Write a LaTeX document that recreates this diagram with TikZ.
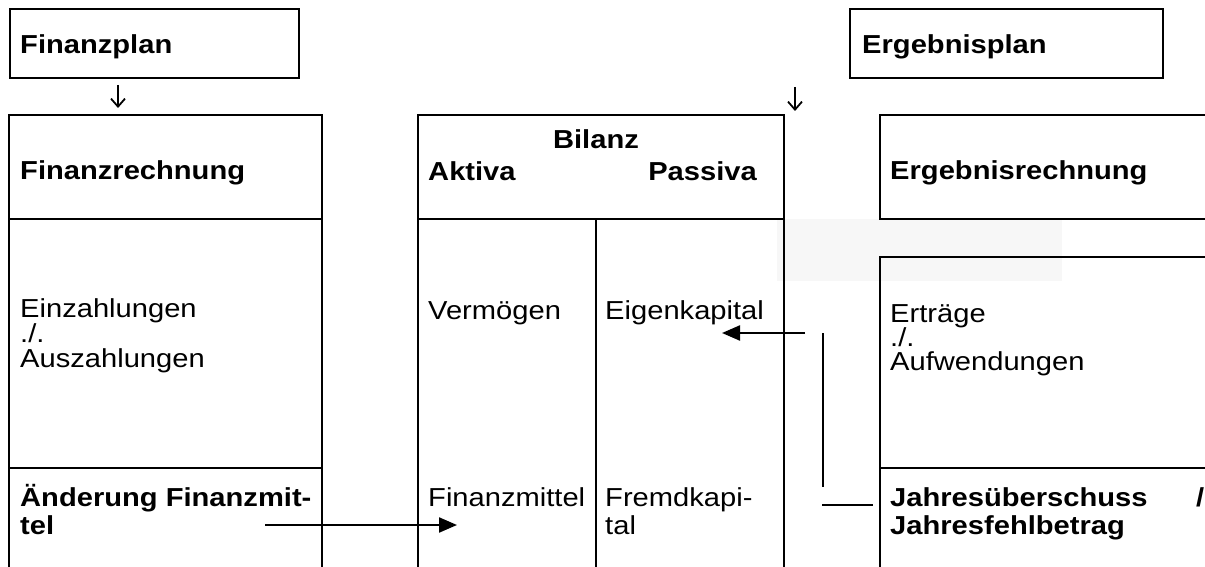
\documentclass[tikz,border=0pt]{standalone}
\usepackage{fontspec}
\setmainfont{Liberation Sans}
\usetikzlibrary{arrows.meta}
\begin{document}
\begin{tikzpicture}[x=1pt,y=-1pt,
  frame/.style={line width=2.2pt,black},
  thin/.style={line width=1.7pt,black},
  txt/.style={anchor=base west,inner sep=0pt,font=\fontsize{26}{29}\selectfont,xscale=1.12,transform shape},
  btxt/.style={txt,font=\fontsize{26}{29}\selectfont\bfseries},
  bigarrow/.style={line width=2.2pt,-{Triangle[length=18pt,width=15pt]}},
  smallarrow/.style={line width=1.8pt,-{Straight Barb[length=8pt,width=14pt]}}]
\useasboundingbox (0,0) rectangle (1205,567);
% faint gray patch
\fill[black!3] (777,219) rectangle (1062,281);
% Finanzplan
\draw[frame] (10,9) rectangle (299,78);
\node[btxt] (fp) at (20,54) {Finanzplan};
% Finanzrechnung
\draw[frame] (9,567) -- (9,115) -- (322,115) -- (322,567);
\draw[frame] (9,219) -- (322,219);
\draw[frame] (9,468) -- (322,468);
\node[btxt] (fr) at (20,179) {Finanzrechnung};
\node[txt] (ez) at (20,317) {Einzahlungen};
\node[txt] (ez2) at (20,342) {./.};
\node[txt] (ez3) at (20,367) {Auszahlungen};
\node[btxt] (af) at (20,506) {Änderung Finanzmit-};
\node[btxt] (af2) at (20,534) {tel};
% Bilanz
\draw[frame] (418,567) -- (418,115) -- (784,115) -- (784,567);
\draw[frame] (418,219) -- (784,219);
\draw[thin] (596,219) -- (596,567);
\node[btxt,anchor=base] (bil) at (596,149) {Bilanz};
\node[btxt] (akt) at (428,181) {Aktiva};
\node[btxt,anchor=base east] (pas) at (757,181) {Passiva};
\node[txt] (verm) at (428,319) {Vermögen};
\node[txt] (ek) at (605,319) {Eigenkapital};
\node[txt] (fm) at (428,506) {Finanzmittel};
\node[txt] (fk) at (605,506) {Fremdkapi-};
\node[txt] (fk2) at (605,534) {tal};
% Ergebnisplan
\draw[frame] (850,9) rectangle (1163,78);
\node[btxt] (ep) at (862,54) {Ergebnisplan};
% Ergebnisrechnung
\draw[frame] (1205,115) -- (880,115) -- (880,219) -- (1205,219);
\node[btxt] (er) at (890,179) {Ergebnisrechnung};
\draw[frame] (1205,257) -- (880,257) -- (880,567);
\draw[thin] (880,468) -- (1205,468);
\node[txt] (ert) at (890,322) {Erträge};
\node[txt] (ert2) at (890,346) {./.};
\node[txt] (ert3) at (890,370) {Aufwendungen};
\node[btxt] (jue) at (890,506) {Jahresüberschuss};
\node[btxt] (sl) at (1196,506) {/};
\node[btxt] (jfb) at (890,534) {Jahresfehlbetrag};
% connectors
\coordinate (a1) at (118,85);
\coordinate (a2) at (118,108);
\draw[smallarrow] (a1) -- (a2);
\coordinate (b1) at (795,87);
\coordinate (b2) at (795,111);
\draw[smallarrow] (b1) -- (b2);
\coordinate (c1) at (805,333);
\coordinate (c2) at (722,333);
\draw[bigarrow] (c1) -- (c2);
\coordinate (d1) at (823,333);
\coordinate (d2) at (823,487);
\draw[thin] (d1) -- (d2);
\coordinate (e1) at (822,505);
\coordinate (e2) at (873,505);
\draw[line width=1.4pt] (e1) -- (e2);
\coordinate (f1) at (265,525);
\coordinate (f2) at (457,525);
\draw[bigarrow] (f1) -- (f2);
\end{tikzpicture}
\end{document}
